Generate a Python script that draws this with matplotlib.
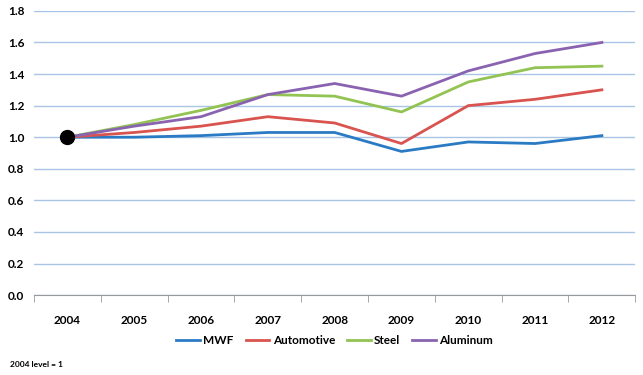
import numpy as np
import matplotlib.pyplot as plt

# index values, 2004 level = 1
years = ["2004", "2005", "2006", "2007", "2008", "2009", "2010", "2011", "2012"]
mwf = [1.00, 1.00, 1.01, 1.03, 1.03, 0.91, 0.97, 0.96, 1.01]
automotive = [1.00, 1.03, 1.07, 1.13, 1.09, 0.96, 1.20, 1.24, 1.30]
steel = [1.00, 1.08, 1.17, 1.27, 1.26, 1.16, 1.35, 1.44, 1.45]
aluminum = [1.00, 1.07, 1.13, 1.27, 1.34, 1.26, 1.42, 1.53, 1.60]

series = [("MWF", mwf, "#2a7bc4"),
          ("Automotive", automotive, "#d9534f"),
          ("Steel", steel, "#92c353"),
          ("Aluminum", aluminum, "#8a63b0")]

plt.rcParams['font.family'] = ['Lato', 'DejaVu Sans']

fig = plt.figure(figsize=(6.43, 3.75), dpi=100)
ax = fig.add_axes([0.053, 0.213, 0.935, 0.758])

x = np.arange(len(years))
for name, vals, col in series:
    ax.plot(x, vals, color=col, lw=2, label=name)

# base point marker
ax.plot(x[0], mwf[0], "o", color="black", ms=10, zorder=5)

ax.set_xlim(-0.5, len(years) - 0.5)
ax.set_ylim(0, 1.8)
ax.set_yticks(np.arange(0, 1.81, 0.2))
ax.set_yticklabels(["%.1f" % v for v in np.arange(0, 1.81, 0.2)], fontsize=8.5, fontweight="bold")
ax.set_xticks(x)
ax.set_xticklabels(years, fontsize=8.5, fontweight="bold")
ax.set_xticks(np.arange(-0.5, len(years)), minor=True)
ax.tick_params(axis="x", which="major", length=0, pad=14)
ax.tick_params(axis="x", which="minor", length=5, color="#999999")
ax.tick_params(axis="y", length=0, pad=7)

ax.grid(axis="y", color="#a9c5e6", lw=1)
ax.set_axisbelow(True)
for s in ["top", "right", "left"]:
    ax.spines[s].set_visible(False)
ax.spines["bottom"].set_color("#999999")

ax.legend(loc="center", bbox_to_anchor=(0.5, -0.16), ncol=4, frameon=False,
          prop={"weight": "bold", "size": 8.5},
          handlelength=2.0, handletextpad=0.3, columnspacing=1.0)

fig.text(0.016, 0.027, "2004 level = 1", fontsize=6, fontweight="bold", va="center")

fig.savefig("out.png", dpi=100)
